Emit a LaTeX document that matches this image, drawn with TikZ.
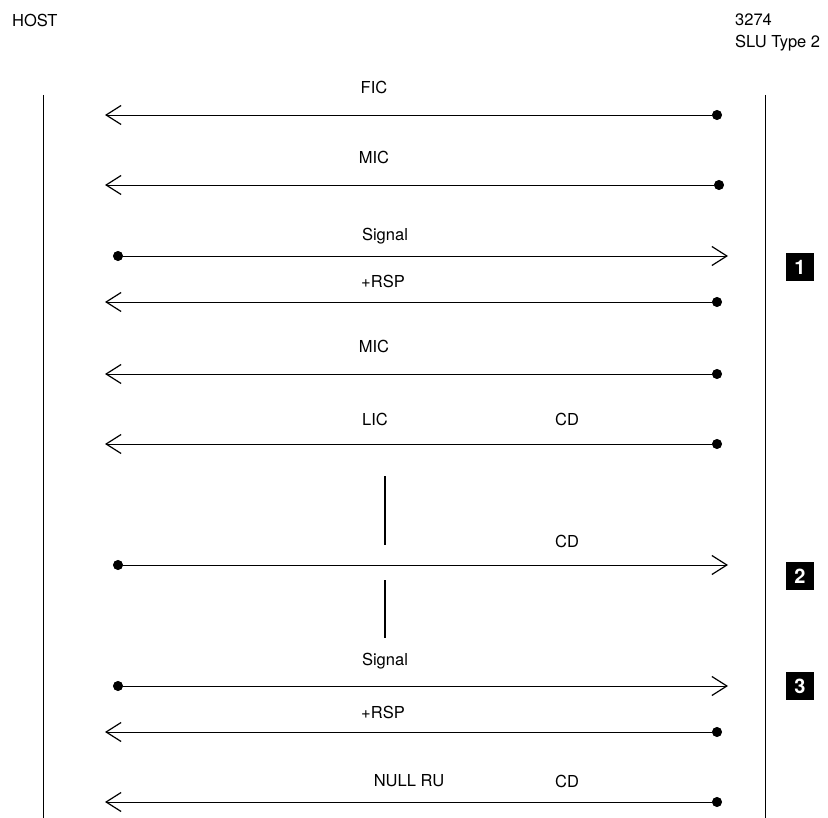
\documentclass[tikz,border=0pt]{standalone}
\usepackage{fontspec}
\setmainfont{TeX Gyre Heros}
\usetikzlibrary{arrows.meta}

\tikzset{
  msg/.style={line width=0.8pt, {Circle[length=10pt]}-{Straight Barb[length=15pt,width=19pt,line width=1.2pt]}},
  lifeline/.style={line width=1pt},
  bar/.style={line width=1.5pt},
  lbl/.style={inner sep=0pt, font=\fontsize{16.5}{19}\selectfont},
  marker/.style={fill=black, text=white, minimum size=28pt, inner sep=0pt, font=\bfseries\fontsize{20}{22}\selectfont}
}

\begin{document}
\begin{tikzpicture}[x=1pt, y=-1pt]
      \useasboundingbox (0,0) rectangle (828,818);
      % heads
      \node[lbl, anchor=west] (host) at (12,20) {HOST};
      \node[lbl, anchor=west] (dev) at (735,20) {3274};
      \node[lbl, anchor=west] (slu) at (735,43) {SLU Type 2};
      % lifelines
      \coordinate (L0) at (43,95);  \coordinate (L1) at (43,818);
      \coordinate (R0) at (765,95); \coordinate (R1) at (765,818);
      \draw[lifeline] (L0) -- (L1);
      \draw[lifeline] (R0) -- (R1);
      %
      \coordinate (h1) at (105,115);  \coordinate (t1) at (722,115);
      \coordinate (h2) at (105,185);  \coordinate (t2) at (724,185);
      \coordinate (h3) at (113,256);  \coordinate (t3) at (728,256);
      \coordinate (h4) at (105,302);  \coordinate (t4) at (722,302);
      \coordinate (h5) at (105,374);  \coordinate (t5) at (722,374);
      \coordinate (h6) at (105,444);  \coordinate (t6) at (722,444);
      \coordinate (h7) at (113,565);  \coordinate (t7) at (728,565);
      \coordinate (h8) at (113,686);  \coordinate (t8) at (728,686);
      \coordinate (h9) at (105,732);  \coordinate (t9) at (722,732);
      \coordinate (h10) at (105,802); \coordinate (t10) at (722,802);
      %
      \draw[msg] (t1) -- (h1);
      \draw[msg] (t2) -- (h2);
      \draw[msg] (h3) -- (t3);
      \draw[msg] (t4) -- (h4);
      \draw[msg] (t5) -- (h5);
      \draw[msg] (t6) -- (h6);
      \draw[msg] (h7) -- (t7);
      \draw[msg] (h8) -- (t8);
      \draw[msg] (t9) -- (h9);
      \draw[msg] (t10) -- (h10);
      %
      \node[lbl] (fic) at (374,87) {FIC};
      \node[lbl] (mic1) at (374,157) {MIC};
      \node[lbl] (sig1) at (385,236) {Signal};
      \node[lbl] (rsp1) at (383,281) {+RSP};
      \node[lbl] (mic2) at (374,346) {MIC};
      \node[lbl] (lic) at (375,419) {LIC};
      \node[lbl] (cd1) at (567,419) {CD};
      \node[lbl] (cd2) at (567,541) {CD};
      \node[lbl] (sig2) at (385,661) {Signal};
      \node[lbl] (rsp2) at (383,712) {+RSP};
      \node[lbl] (null) at (409,781) {NULL RU};
      \node[lbl] (cd3) at (567,781) {CD};
      % time gaps
      \coordinate (g1) at (385,476); \coordinate (g2) at (385,545);
      \coordinate (g3) at (385,580); \coordinate (g4) at (385,638);
      \draw[bar] (g1) -- (g2);
      \draw[bar] (g3) -- (g4);
      %
      \node[marker] (m1) at (800,267) {1};
      \node[marker] (m2) at (800,576) {2};
      \node[marker] (m3) at (800,686) {3};
    \end{tikzpicture}
\end{document}
